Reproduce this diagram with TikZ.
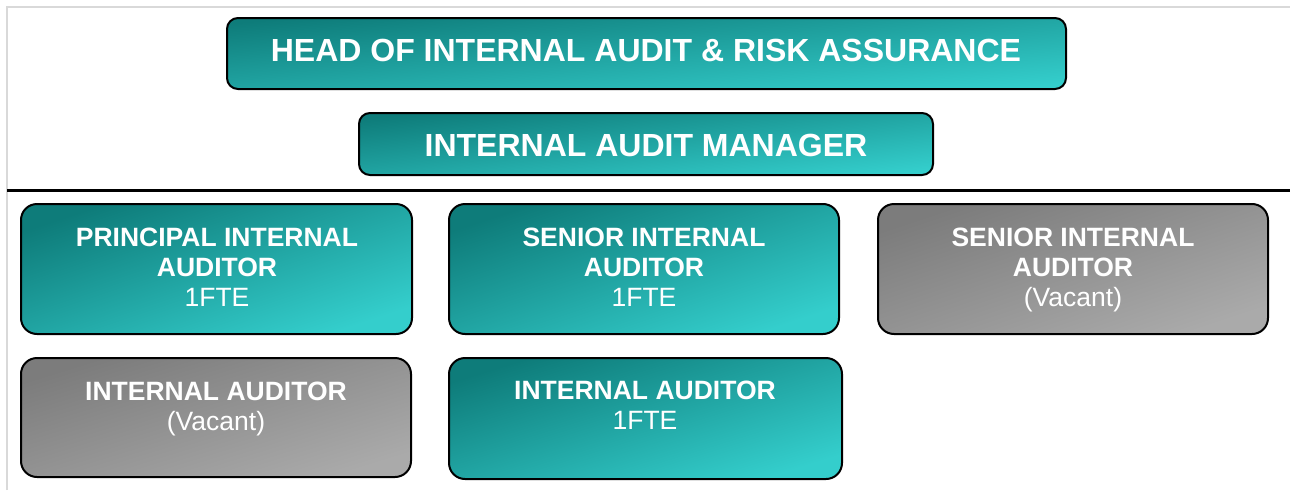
\documentclass[tikz,border=0pt]{standalone}
\usepackage{fontspec}
\setmainfont{Liberation Sans}
\definecolor{tealdark}{RGB}{14,124,122}
\definecolor{teallight}{RGB}{52,206,204}
\definecolor{greydark}{RGB}{124,124,124}
\definecolor{greylight}{RGB}{170,170,170}
\definecolor{framegrey}{RGB}{217,217,217}
\begin{document}
\begin{tikzpicture}[x=1pt,y=-1pt,
  box/.style={draw=black, line width=2pt, rounded corners=#1, inner sep=0pt},
  box/.default=16pt,
  % the gradient runs corner to corner of each box, so its angle depends on the box shape
  filled/.style={top color=tealdark, bottom color=teallight, shading angle=#1},
  vacant/.style={top color=greydark, bottom color=greylight, shading angle=#1},
  title/.style={text=white, font=\fontsize{32}{36}\selectfont\bfseries},
  role/.style={text=white, align=center, font=\fontsize{26.5}{30}\selectfont\bfseries}]
\useasboundingbox (0,0) rectangle (1290,490);
\fill[white] (0,0) rectangle (1290,490);

% page frame and divider
\coordinate (fl) at (6.5,490);
\coordinate (fc) at (6.5,6.5);
\coordinate (fr) at (1290,6.5);
\draw[framegrey, line width=2pt] (fl) -- (fc) -- (fr);
\coordinate (dl) at (7,190);
\coordinate (dr) at (1290,190);
\draw[black, line width=3pt] (dl) -- (dr);

% management
\node[box=11pt, filled=5, minimum width=839pt, minimum height=71pt] (head) at (646.5,53.5) {};
\node[title] (headt) at (646,50) {HEAD OF INTERNAL AUDIT \& RISK ASSURANCE};
\node[box=11pt, filled=6.3, minimum width=574pt, minimum height=62pt] (mgr) at (646,144) {};
\node[title] (mgrt) at (646,145) {INTERNAL AUDIT MANAGER};

% first row of auditors
\node[box, filled=18.6, minimum width=391pt, minimum height=130pt] (pia) at (216.5,269) {};
\node[role] (piat) at (217,267) {PRINCIPAL INTERNAL\\AUDITOR\\{\mdseries 1FTE}};
\node[box, filled=18.6, minimum width=390pt, minimum height=130pt] (sia) at (644,269) {};
\node[role] (siat) at (644,267) {SENIOR INTERNAL\\AUDITOR\\{\mdseries 1FTE}};
\node[box, vacant=18.6, minimum width=390pt, minimum height=130pt] (siav) at (1073,269) {};
\node[role] (siavt) at (1073,270) {SENIOR INTERNAL\\AUDITOR\\{\mdseries (Vacant)}};

% second row of auditors
\node[box, vacant=17.2, minimum width=390pt, minimum height=119pt] (iav) at (216,417.5) {};
\node[role] (iavt) at (216,408.5) {INTERNAL AUDITOR\\{\mdseries (Vacant)}};
\node[box, filled=17.2, minimum width=393pt, minimum height=121pt] (ia) at (645.5,418.5) {};
\node[role] (iat) at (645,405.5) {INTERNAL AUDITOR\\{\mdseries 1FTE}};
\end{tikzpicture}
\end{document}
